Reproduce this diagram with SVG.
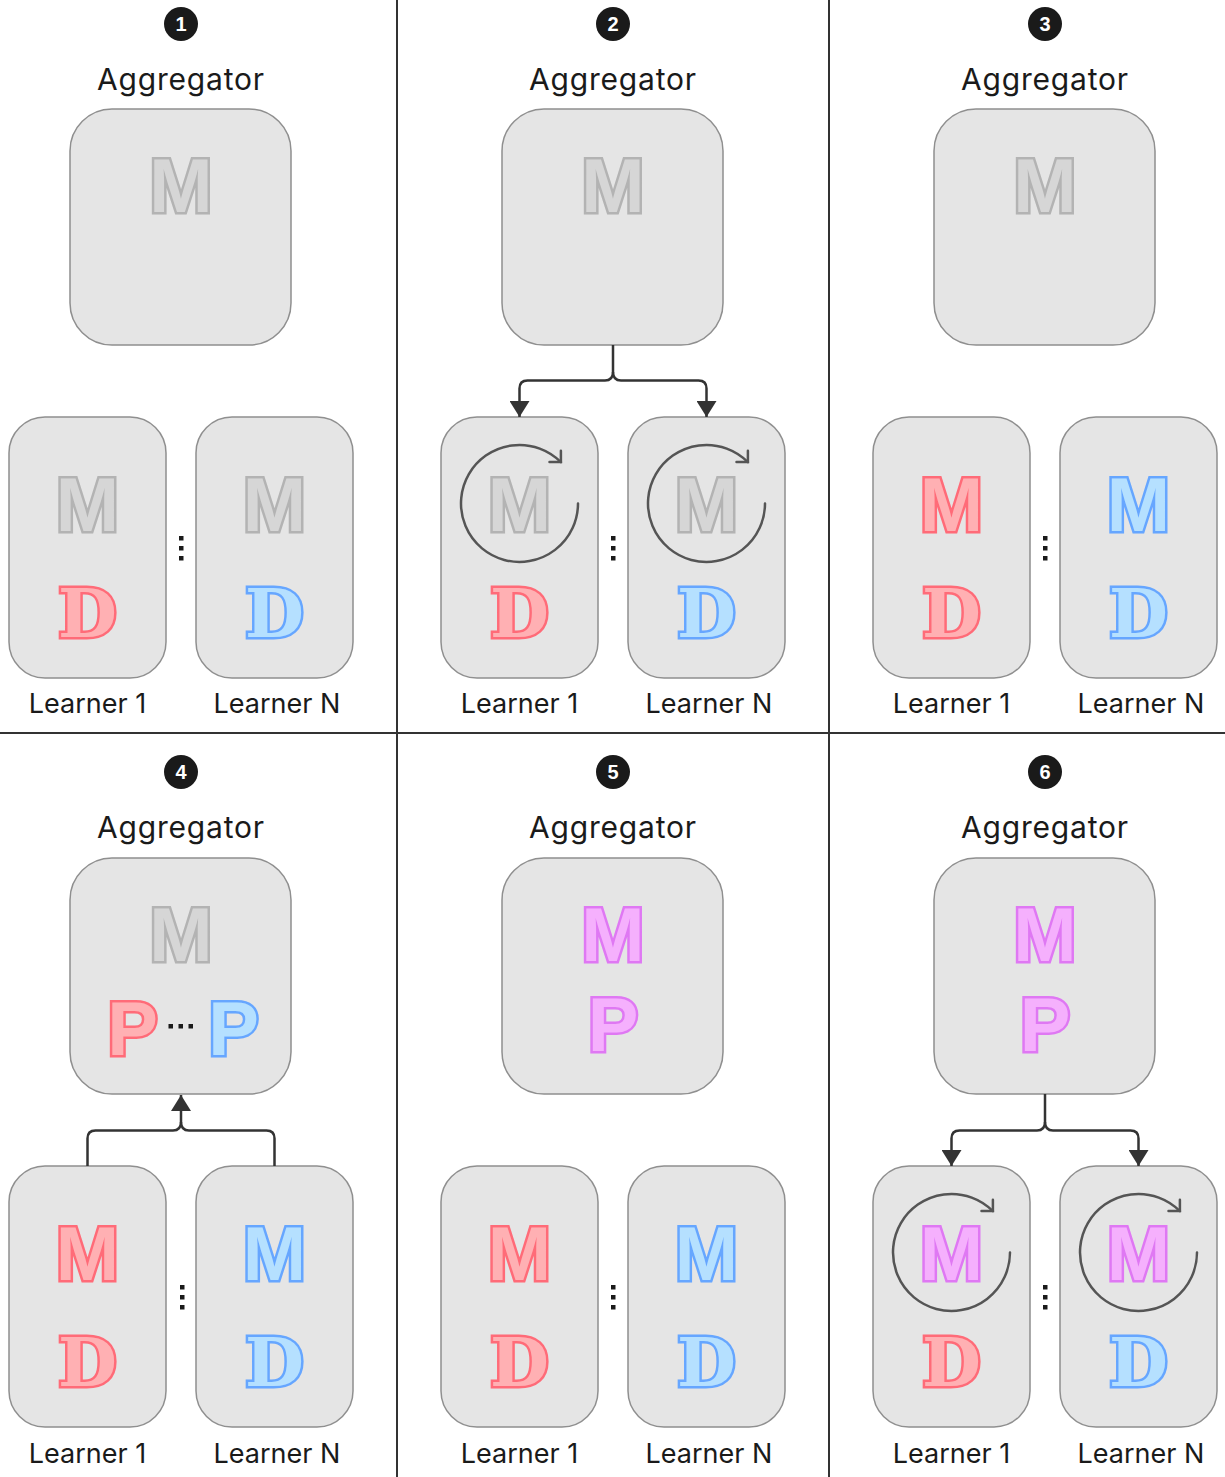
<svg xmlns="http://www.w3.org/2000/svg" width="1225" height="1477" viewBox="0 0 1225 1477">
<style>
.bg{fill:#ffffff}
.div{stroke:#333333;stroke-width:2;fill:none}
.agg{fill:#e5e5e5;stroke:#8f8f8f;stroke-width:1.5}
.box{fill:#e5e5e5;stroke:#8f8f8f;stroke-width:1.5}
.lbl{font-family:Inter,"Liberation Sans",sans-serif;font-size:30px;letter-spacing:0.8px;fill:#1a1a1a;text-anchor:middle}
.lrn{font-family:Inter,"Liberation Sans",sans-serif;font-size:27px;fill:#1a1a1a;text-anchor:middle}
.badge{fill:#1a1a1a}
.num{font-family:"Liberation Sans",Arial,sans-serif;font-size:20px;font-weight:bold;fill:#ffffff;text-anchor:middle}
.m{font-family:"Liberation Sans",Arial,sans-serif;font-size:76px;font-weight:bold;text-anchor:middle;stroke-width:5;paint-order:stroke;stroke-linejoin:miter}
.d{font-family:"DejaVu Serif","Liberation Serif",serif;font-size:68px;font-weight:bold;text-anchor:middle;stroke-width:5;paint-order:stroke}
.gray{fill:#d6d6d6;stroke:#b3b3b3}
.red{fill:#ffb0b3;stroke:#ff6b78}
.blue{fill:#b5e0ff;stroke:#66a6ff}
.purple{fill:#f5b0fd;stroke:#df78f3}
.conn{fill:none;stroke:#333333;stroke-width:2.5;stroke-linejoin:round}
.cyc{fill:none;stroke:#555555;stroke-width:2.5;stroke-linecap:round}
.dot{fill:#1a1a1a}
</style>
<defs>
<marker id="arr" markerUnits="userSpaceOnUse" viewBox="0 0 16 20" markerWidth="16" markerHeight="20" refX="16" refY="10" orient="auto">
<path d="M0,0 L16,10 L0,20 Z" fill="#333333"/>
</marker>
</defs>
<rect class="bg" x="0" y="0" width="1225" height="1477"/>

<g id="dividers">
<line class="div" x1="397" y1="0" x2="397" y2="1477"/>
<line class="div" x1="829" y1="0" x2="829" y2="1477"/>
<line class="div" x1="0" y1="733" x2="1225" y2="733"/>
</g>

<!-- Panel 1 -->
<g id="p1-badge"><circle class="badge" cx="181" cy="24" r="17"/><text class="num" x="181" y="31">1</text></g>
<g id="p1-agg">
<text class="lbl" x="181" y="90">Aggregator</text>
<rect class="agg" x="70" y="109" width="221" height="236" rx="42"/>
<text class="m gray" x="181" y="212">M</text>
</g>
<g id="p1-l1">
<rect class="box" x="9" y="417" width="157" height="261" rx="36"/>
<text class="m gray" x="87.5" y="531">M</text>
<text class="d red" x="87.5" y="637">D</text>
<text class="lrn" x="87.5" y="713">Learner 1</text>
</g>
<g id="p1-ln">
<rect class="box" x="196" y="417" width="157" height="261" rx="36"/>
<text class="m gray" x="274.5" y="531">M</text>
<text class="d blue" x="274.5" y="637">D</text>
<text class="lrn" x="277" y="713">Learner N</text>
</g>
<g id="p1-dots"><rect class="dot" x="179" y="536" width="4.5" height="4.5"/><rect class="dot" x="179" y="546" width="4.5" height="4.5"/><rect class="dot" x="179" y="556" width="4.5" height="4.5"/></g>

<!-- Panel 2 -->
<g id="p2-badge"><circle class="badge" cx="613" cy="24" r="17"/><text class="num" x="613" y="31">2</text></g>
<g id="p2-agg">
<text class="lbl" x="613" y="90">Aggregator</text>
<rect class="agg" x="502" y="109" width="221" height="236" rx="42"/>
<text class="m gray" x="613" y="212">M</text>
</g>
<g id="p2-l1">
<rect class="box" x="441" y="417" width="157" height="261" rx="36"/>
<text class="m gray" x="519.5" y="531">M</text>
<path class="cyc" d="M578,503.5 A58.5,58.5 0 1 1 560.9,462.1"/>
<path class="cyc" d="M549.5,462.1 H560.9 V450.7"/>
<text class="d red" x="519.5" y="637">D</text>
<text class="lrn" x="519.5" y="713">Learner 1</text>
</g>
<g id="p2-ln">
<rect class="box" x="628" y="417" width="157" height="261" rx="36"/>
<text class="m gray" x="706.5" y="531">M</text>
<path class="cyc" d="M765,503.5 A58.5,58.5 0 1 1 747.9,462.1"/>
<path class="cyc" d="M736.5,462.1 H747.9 V450.7"/>
<text class="d blue" x="706.5" y="637">D</text>
<text class="lrn" x="709" y="713">Learner N</text>
</g>
<g id="p2-dots"><rect class="dot" x="611" y="536" width="4.5" height="4.5"/><rect class="dot" x="611" y="546" width="4.5" height="4.5"/><rect class="dot" x="611" y="556" width="4.5" height="4.5"/></g>

<!-- Panel 3 -->
<g id="p3-badge"><circle class="badge" cx="1045" cy="24" r="17"/><text class="num" x="1045" y="31">3</text></g>
<g id="p3-agg">
<text class="lbl" x="1045" y="90">Aggregator</text>
<rect class="agg" x="934" y="109" width="221" height="236" rx="42"/>
<text class="m gray" x="1045" y="212">M</text>
</g>
<g id="p3-l1">
<rect class="box" x="873" y="417" width="157" height="261" rx="36"/>
<text class="m red" x="951.5" y="531">M</text>
<text class="d red" x="951.5" y="637">D</text>
<text class="lrn" x="951.5" y="713">Learner 1</text>
</g>
<g id="p3-ln">
<rect class="box" x="1060" y="417" width="157" height="261" rx="36"/>
<text class="m blue" x="1138.5" y="531">M</text>
<text class="d blue" x="1138.5" y="637">D</text>
<text class="lrn" x="1141" y="713">Learner N</text>
</g>
<g id="p3-dots"><rect class="dot" x="1043" y="536" width="4.5" height="4.5"/><rect class="dot" x="1043" y="546" width="4.5" height="4.5"/><rect class="dot" x="1043" y="556" width="4.5" height="4.5"/></g>

<!-- Panel 4 -->
<g id="p4-badge"><circle class="badge" cx="181" cy="772" r="17"/><text class="num" x="181" y="779">4</text></g>
<g id="p4-agg">
<text class="lbl" x="181" y="838">Aggregator</text>
<rect class="agg" x="70" y="858" width="221" height="236" rx="42"/>
<text class="m gray" x="181" y="961">M</text>
<text class="m red" x="132.5" y="1055">P</text>
<rect class="dot" x="168.5" y="1024" width="4.5" height="4.5"/><rect class="dot" x="178.5" y="1024" width="4.5" height="4.5"/><rect class="dot" x="188.5" y="1024" width="4.5" height="4.5"/>
<text class="m blue" x="233.5" y="1055">P</text>
</g>
<g id="p4-l1">
<rect class="box" x="9" y="1166" width="157" height="261" rx="36"/>
<text class="m red" x="87.5" y="1280">M</text>
<text class="d red" x="87.5" y="1386">D</text>
<text class="lrn" x="87.5" y="1463">Learner 1</text>
</g>
<g id="p4-ln">
<rect class="box" x="196" y="1166" width="157" height="261" rx="36"/>
<text class="m blue" x="274.5" y="1280">M</text>
<text class="d blue" x="274.5" y="1386">D</text>
<text class="lrn" x="277" y="1463">Learner N</text>
</g>
<g id="p4-dots"><rect class="dot" x="180" y="1285" width="4.5" height="4.5"/><rect class="dot" x="180" y="1295" width="4.5" height="4.5"/><rect class="dot" x="180" y="1305" width="4.5" height="4.5"/></g>

<!-- Panel 5 -->
<g id="p5-badge"><circle class="badge" cx="613" cy="772" r="17"/><text class="num" x="613" y="779">5</text></g>
<g id="p5-agg">
<text class="lbl" x="613" y="838">Aggregator</text>
<rect class="agg" x="502" y="858" width="221" height="236" rx="42"/>
<text class="m purple" x="613" y="961">M</text>
<text class="m purple" x="613" y="1051">P</text>
</g>
<g id="p5-l1">
<rect class="box" x="441" y="1166" width="157" height="261" rx="36"/>
<text class="m red" x="519.5" y="1280">M</text>
<text class="d red" x="519.5" y="1386">D</text>
<text class="lrn" x="519.5" y="1463">Learner 1</text>
</g>
<g id="p5-ln">
<rect class="box" x="628" y="1166" width="157" height="261" rx="36"/>
<text class="m blue" x="706.5" y="1280">M</text>
<text class="d blue" x="706.5" y="1386">D</text>
<text class="lrn" x="709" y="1463">Learner N</text>
</g>
<g id="p5-dots"><rect class="dot" x="611" y="1285" width="4.5" height="4.5"/><rect class="dot" x="611" y="1295" width="4.5" height="4.5"/><rect class="dot" x="611" y="1305" width="4.5" height="4.5"/></g>

<!-- Panel 6 -->
<g id="p6-badge"><circle class="badge" cx="1045" cy="772" r="17"/><text class="num" x="1045" y="779">6</text></g>
<g id="p6-agg">
<text class="lbl" x="1045" y="838">Aggregator</text>
<rect class="agg" x="934" y="858" width="221" height="236" rx="42"/>
<text class="m purple" x="1045" y="961">M</text>
<text class="m purple" x="1045" y="1051">P</text>
</g>
<g id="p6-l1">
<rect class="box" x="873" y="1166" width="157" height="261" rx="36"/>
<text class="m purple" x="951.5" y="1280">M</text>
<path class="cyc" d="M1010,1252.5 A58.5,58.5 0 1 1 992.9,1211.1"/>
<path class="cyc" d="M981.5,1211.1 H992.9 V1199.7"/>
<text class="d red" x="951.5" y="1386">D</text>
<text class="lrn" x="951.5" y="1463">Learner 1</text>
</g>
<g id="p6-ln">
<rect class="box" x="1060" y="1166" width="157" height="261" rx="36"/>
<text class="m purple" x="1138.5" y="1280">M</text>
<path class="cyc" d="M1197,1252.5 A58.5,58.5 0 1 1 1179.9,1211.1"/>
<path class="cyc" d="M1168.5,1211.1 H1179.9 V1199.7"/>
<text class="d blue" x="1138.5" y="1386">D</text>
<text class="lrn" x="1141" y="1463">Learner N</text>
</g>
<g id="p6-dots"><rect class="dot" x="1043" y="1285" width="4.5" height="4.5"/><rect class="dot" x="1043" y="1295" width="4.5" height="4.5"/><rect class="dot" x="1043" y="1305" width="4.5" height="4.5"/></g>

<g id="connectors">
<path class="conn" marker-end="url(#arr)" d="M613,345 V372 Q613,380.5 605,380.5 H527.5 Q519.5,380.5 519.5,388.5 V417"/>
<path class="conn" marker-end="url(#arr)" d="M613,372 Q613,380.5 621,380.5 H698.5 Q706.5,380.5 706.5,388.5 V417"/>
<path class="conn" marker-end="url(#arr)" d="M87.5,1166 V1138.5 Q87.5,1130.5 95.5,1130.5 H173 Q181,1130.5 181,1122 V1095"/>
<path class="conn" d="M274.5,1166 V1138.5 Q274.5,1130.5 266.5,1130.5 H189 Q181,1130.5 181,1122"/>
<path class="conn" marker-end="url(#arr)" d="M1045,1094 V1122 Q1045,1130.5 1037,1130.5 H959.5 Q951.5,1130.5 951.5,1138.5 V1166"/>
<path class="conn" marker-end="url(#arr)" d="M1045,1122 Q1045,1130.5 1053,1130.5 H1130.5 Q1138.5,1130.5 1138.5,1138.5 V1166"/>
</g>
</svg>
